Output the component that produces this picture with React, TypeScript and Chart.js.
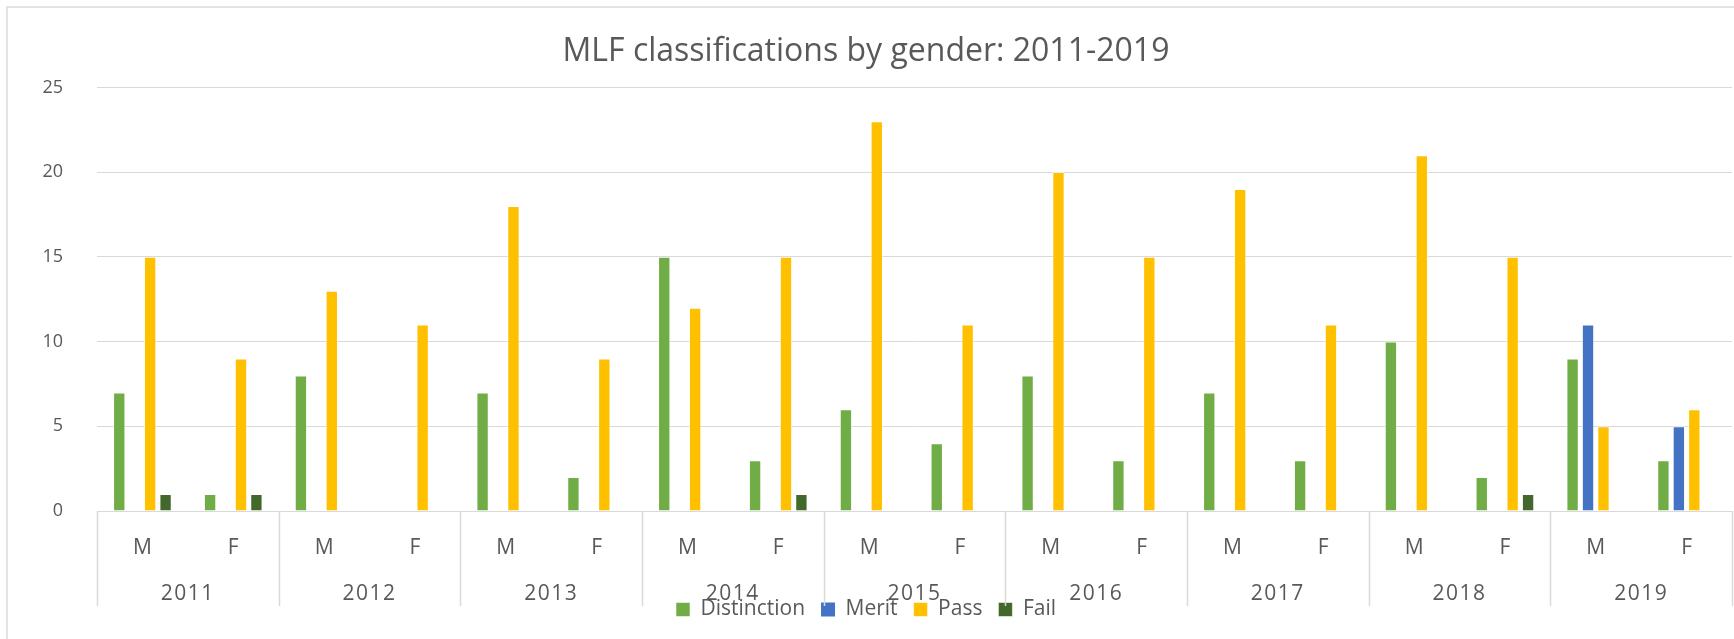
import React, { useEffect, useRef } from "react";
import { Chart, registerables } from "chart.js";

Chart.register(...registerables);

const years = ["2011", "2012", "2013", "2014", "2015", "2016", "2017", "2018", "2019"];
const genders = ["M", "F"];
const categories = years.flatMap(() => genders);

const distinction = [7, 1, 8, 0, 7, 2, 15, 3, 6, 4, 8, 3, 7, 3, 10, 2, 9, 3];
const merit = [0, 0, 0, 0, 0, 0, 0, 0, 0, 0, 0, 0, 0, 0, 0, 0, 11, 5];
const pass = [15, 9, 13, 11, 18, 9, 12, 15, 23, 11, 20, 15, 19, 11, 21, 15, 5, 6];
const fail = [1, 1, 0, 0, 0, 0, 0, 1, 0, 0, 0, 0, 0, 0, 0, 1, 0, 0];

const FONT = "'Open Sans', 'Noto Sans', sans-serif";
const TEXT = "#595959";
const GRID = "#d9d9d9";

const yearPlugin = {
  id: "yearGroups",
  afterDraw(chart: any) {
    const xs = chart.scales.x;
    const ctx = chart.ctx;
    const top = chart.chartArea.bottom;
    const bottom = 606;
    const cw = xs.width / categories.length;
    ctx.save();
    ctx.strokeStyle = GRID;
    ctx.lineWidth = 1.5;
    for (let i = 0; i <= years.length; i++) {
      const px = Math.round(xs.left + i * 2 * cw) + 0.5;
      ctx.beginPath();
      ctx.moveTo(px, top);
      ctx.lineTo(px, bottom);
      ctx.stroke();
    }
    ctx.fillStyle = TEXT;
    ctx.font = `21px ${FONT}`;
    ctx.textAlign = "center";
    ctx.textBaseline = "middle";
    try { (ctx as any).letterSpacing = "1.5px"; } catch (e) {}
    years.forEach((yr, i) => {
      const cx = xs.left + (i * 2 + 1) * cw;
      ctx.fillText(yr, cx, 594);
    });
    ctx.restore();
  },
};

export default function App() {
  const ref = useRef<HTMLCanvasElement>(null);
  useEffect(() => {
    if (!ref.current) return;
    const bw = (c: any) => (c.raw ? 1 : 0);
    const chart = new Chart(ref.current, {
      type: "bar",
      data: {
        labels: categories,
        datasets: [
          { label: "Distinction", data: distinction, backgroundColor: "#70AD47", borderColor: "rgba(255,255,255,0.55)", borderWidth: bw as any },
          { label: "Merit", data: merit, backgroundColor: "#4472C4", borderColor: "rgba(255,255,255,0.55)", borderWidth: bw as any },
          { label: "Pass", data: pass, backgroundColor: "#FFC000", borderColor: "rgba(255,255,255,0.55)", borderWidth: bw as any },
          { label: "Fail", data: fail, backgroundColor: "#43682B", borderColor: "rgba(255,255,255,0.55)", borderWidth: bw as any },
        ],
      },
      options: {
        responsive: false,
        animation: false,
        layout: { padding: { left: 0, right: 2, top: 0, bottom: 9 } },
        datasets: { bar: { categoryPercentage: 0.68, barPercentage: 0.8 } } as any,
        scales: {
          x: {
            grid: { display: false, drawTicks: false },
            border: { display: false },
            ticks: { color: TEXT, font: { family: FONT, size: 21 }, padding: 24, maxRotation: 0, autoSkip: false },
            afterFit: (s: any) => { s.height = 72; },
          },
          y: {
            min: 0,
            max: 25,
            grid: { color: GRID, lineWidth: 1, drawTicks: false },
            border: { display: false },
            ticks: { stepSize: 5, color: TEXT, font: { family: FONT, size: 18 }, padding: 34 },
            afterFit: (s: any) => { s.width = 97; },
          },
        },
        plugins: {
          title: {
            display: true,
            text: "MLF classifications by gender: 2011-2019",
            color: TEXT,
            font: { family: FONT, size: 32, weight: "normal" },
            padding: { top: 33, bottom: 16 },
          },
          legend: {
            position: "bottom",
            labels: { color: TEXT, font: { family: FONT, size: 21 }, boxWidth: 14, boxHeight: 14, padding: 16 },
          },
          tooltip: { enabled: false },
        },
      },
      plugins: [yearPlugin],
    });
    return () => chart.destroy();
  }, []);
  return (
    <div style={{ position: "fixed", left: 0, top: 0, width: 1734, height: 639, background: "#fff" }}>
      <div style={{ position: "absolute", left: 6, top: 6, width: 1740, height: 640, borderLeft: "2px solid #e3e3e3", borderTop: "2px solid #e3e3e3" }} />
      <canvas ref={ref} width={1734} height={639} style={{ position: "absolute", left: 0, top: 0 }} />
    </div>
  );
}
